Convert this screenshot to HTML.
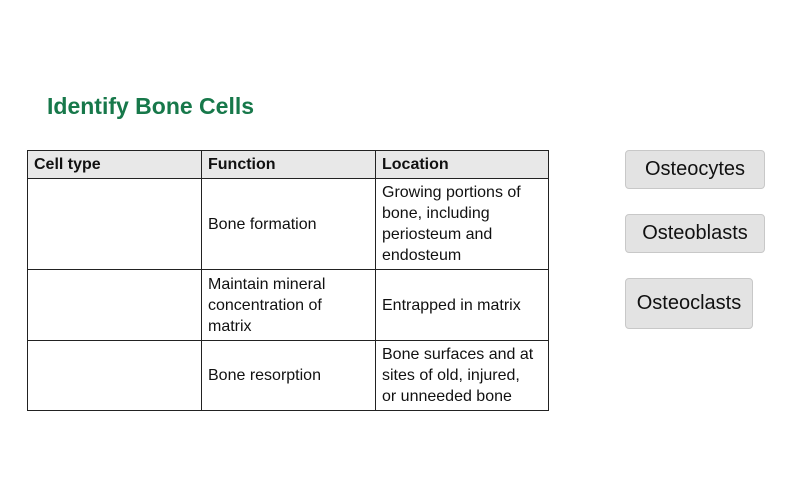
<!DOCTYPE html>
<html><head><style>
body{margin:0;width:800px;height:500px;background:#fff;position:relative;font-family:"Liberation Sans",Arial,sans-serif;overflow:hidden}
.a{position:absolute}
h1{position:absolute;left:47px;top:93px;margin:0;font-size:23px;color:#17784a;font-weight:bold}
.c{position:absolute;box-sizing:border-box;border:1px solid #222;font-size:16px;color:#111;line-height:21px;padding-left:6px;display:flex;align-items:center}
.h{background:#e8e8e8;font-weight:bold}
.b{position:absolute;box-sizing:border-box;background:#e3e3e3;border:1.5px solid #c8c8c8;border-radius:4px;font-size:20px;color:#111;display:flex;align-items:center;justify-content:center}
</style></head><body>
<h1>Identify Bone Cells</h1>
<div class="c h" style="left:27px;top:150px;width:175px;height:29px">Cell type</div>
<div class="c h" style="left:201px;top:150px;width:175px;height:29px">Function</div>
<div class="c h" style="left:375px;top:150px;width:174px;height:29px">Location</div>

<div class="c" style="left:27px;top:178px;width:175px;height:92px"></div>
<div class="c" style="left:201px;top:178px;width:175px;height:92px">Bone formation</div>
<div class="c" style="left:375px;top:178px;width:174px;height:92px">Growing portions of<br>bone, including<br>periosteum and<br>endosteum</div>

<div class="c" style="left:27px;top:269px;width:175px;height:72px"></div>
<div class="c" style="left:201px;top:269px;width:175px;height:72px">Maintain mineral<br>concentration of<br>matrix</div>
<div class="c" style="left:375px;top:269px;width:174px;height:72px">Entrapped in matrix</div>

<div class="c" style="left:27px;top:340px;width:175px;height:71px"></div>
<div class="c" style="left:201px;top:340px;width:175px;height:71px">Bone resorption</div>
<div class="c" style="left:375px;top:340px;width:174px;height:71px">Bone surfaces and at<br>sites of old, injured,<br>or unneeded bone</div>

<div class="b" style="left:625px;top:150px;width:140px;height:39px">Osteocytes</div>
<div class="b" style="left:625px;top:214px;width:140px;height:39px">Osteoblasts</div>
<div class="b" style="left:625px;top:278px;width:128px;height:51px">Osteoclasts</div>
</body></html>
